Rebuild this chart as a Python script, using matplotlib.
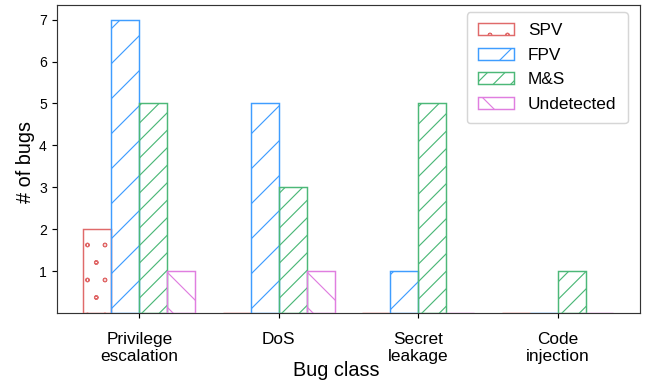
import numpy as np
import matplotlib
matplotlib.use('Agg')
import matplotlib.pyplot as plt
import matplotlib.hatch

plt.rcParams['font.family'] = ['Liberation Sans', 'DejaVu Sans']
plt.rcParams['hatch.linewidth'] = 0.8
# smaller dots for the 'o' hatch
matplotlib.hatch.SmallCircles.size = 0.1

categories = ['Privilege\nescalation', 'DoS', 'Secret\nleakage', 'Code\ninjection']
series_names = ['SPV', 'FPV', 'M&S', 'Undetected']
spv = [2, 0, 0, 0]
fpv = [7, 5, 1, 0]
ms = [5, 3, 5, 1]
undetected = [1, 1, 0, 0]

colors = ['#e06a6a', '#3f9dff', '#4cb878', '#e07ee0']
hatches = ['o', '/', '//', '\\']

dpi = 105
fig = plt.figure(figsize=(646 / dpi, 384 / dpi), dpi=dpi)
ax = fig.add_axes([0.0882, 0.1849, 0.9025, 0.8021])

x = np.arange(len(categories))
width = 0.2
offsets = [-0.3, -0.1, 0.1, 0.3]
for vals, name, c, h, off in zip([spv, fpv, ms, undetected], series_names, colors, hatches, offsets):
    ax.bar(x + off, vals, width, label=name, facecolor='none', edgecolor=c,
           hatch=h, linewidth=1.0, zorder=3)

ax.set_xticks(x)
ax.set_xticklabels(categories, fontsize=11.8)
ax.tick_params(axis='x', pad=9.5)
ax.set_yticks(range(1, 8))
ax.tick_params(axis='y', labelsize=9.6)

ax.set_ylabel('# of bugs', fontsize=13.6)
ax.yaxis.set_label_coords(-0.038, 0.49)
ax.set_xlabel('Bug class', fontsize=13.6)
ax.xaxis.set_label_coords(0.479, -0.155)

for s in ax.spines.values():
    s.set_color('#333333')

ax.legend(loc='upper right', bbox_to_anchor=(0.979, 0.977), borderaxespad=0,
          fontsize=11.8, labelspacing=0.55, borderpad=0.65, handlelength=2.1)

fig.savefig('out.png', dpi=dpi)
